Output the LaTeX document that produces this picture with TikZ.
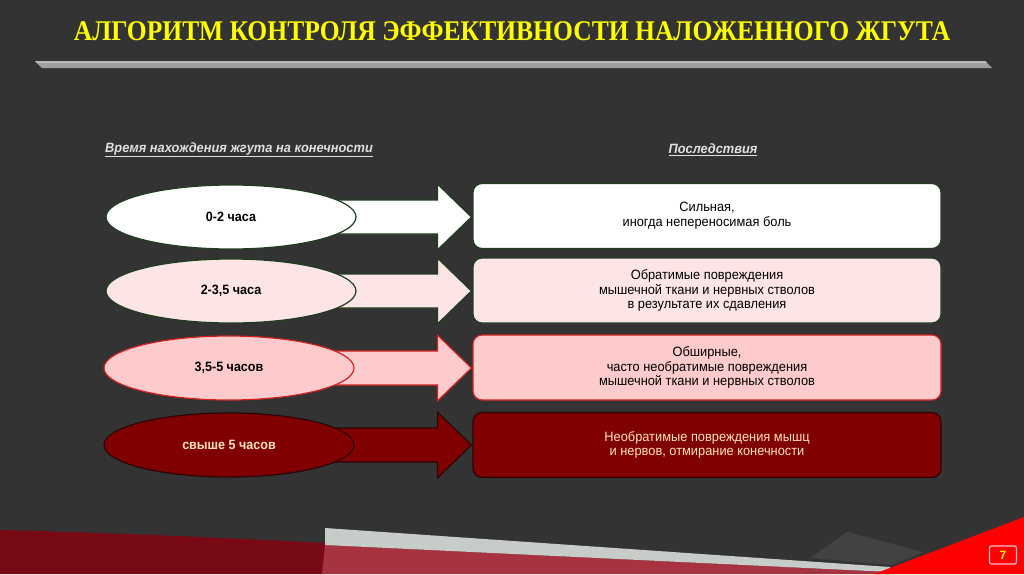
\documentclass[tikz,border=0pt]{standalone}
\usepackage{fontspec}
\setmainfont{Liberation Sans}
\newfontfamily\titlefont[FakeStretch=0.897]{Liberation Serif}
\newfontfamily\narrowfont[FakeStretch=0.95]{Liberation Sans}
\newfontfamily\boldnarrow[FakeStretch=0.93]{Liberation Sans}
\usetikzlibrary{shapes.geometric,calc}
\definecolor{bg}{HTML}{333333}
\definecolor{ttl}{HTML}{FFFF00}
\definecolor{dgreen}{HTML}{1E3D1E}
\definecolor{pinkA}{HTML}{FDE5E5}
\definecolor{pinkB}{HTML}{FDCBCB}
\definecolor{redB}{HTML}{D42020}
\definecolor{dred}{HTML}{800000}
\definecolor{dredB}{HTML}{2A0505}
\definecolor{cream}{HTML}{FBE3B8}
\definecolor{hdr}{HTML}{E0E0E0}
\definecolor{bandA}{HTML}{780A16}
\definecolor{bandB}{HTML}{A83340}
\definecolor{stripW}{HTML}{C8CCC8}
\definecolor{shadeC}{HTML}{424242}
\definecolor{bright}{HTML}{FF0000}
\definecolor{pgB}{HTML}{F0C0D0}
\begin{document}
\begin{tikzpicture}[x=1pt,y=-1pt,
  ell/.style={ellipse,minimum width=250,minimum height=64,inner sep=0pt,line width=1.2pt,
    font=\boldnarrow\bfseries\fontsize{13.5}{15}\selectfont},
  cbox/.style={rectangle,rounded corners=9pt,minimum width=468,minimum height=65,inner sep=0pt,
    line width=1.2pt,align=center,font=\narrowfont\fontsize{13.5}{14.8}\selectfont},
  barrow/.style={line width=1.2pt,line join=miter},
  hdrtext/.style={text=hdr,font=\narrowfont\bfseries\itshape\fontsize{13.5}{15}\selectfont,inner sep=0pt}
]
\useasboundingbox (0,0) rectangle (1024,574);
\fill[bg] (0,0) rectangle (1024,574);
% title
\node[text=ttl,font=\titlefont\bfseries\fontsize{28.5}{30}\selectfont,inner sep=0pt] (title) at (512,31) {АЛГОРИТМ КОНТРОЛЯ ЭФФЕКТИВНОСТИ НАЛОЖЕННОГО ЖГУТА};
% gray bar
\fill[gray!75] (35,61) -- (985,61) -- (992,68) -- (42,68) -- cycle;
\fill[gray!55] (35,61) -- (985,61) -- (987,63) -- (37,63) -- cycle;
% headers
\node[hdrtext] (h1) at (239,150) {\underline{Время нахождения жгута на конечности}};
\node[hdrtext] (h2) at (713,150) {\underline{Последствия}};
% bottom decoration
\fill[bandA] (0,530) .. controls (120,533) and (230,538) .. (325,543) -- (325,574) -- (0,574) -- cycle;
\fill[bandB] (325,545) -- (890,572) -- (890,574) -- (322,574) -- cycle;
\fill[stripW] (325,528) -- (890,567) -- (890,572) -- (325,545) -- cycle;
\fill[shadeC] (847,532) -- (923,552) -- (892,565) -- (810,558) -- cycle;
\fill[bright] (874,574) -- (1024,517) -- (1024,574) -- cycle;
\node[draw=pgB,line width=1.2pt,rounded corners=2pt,minimum width=27,minimum height=18,inner sep=0pt,
  text=ttl,font=\bfseries\fontsize{12}{14}\selectfont] (pg) at (1003,555) {7};
% boxes
\node[cbox,draw=dgreen,fill=white] (b1) at (707,216) {Сильная,\\иногда непереносимая боль};
\node[cbox,draw=dgreen,fill=pinkA] (b2) at (707,290.5) {Обратимые повреждения\\мышечной ткани и нервных стволов\\в результате их сдавления};
\node[cbox,draw=redB,fill=pinkB] (b3) at (707,367.5) {Обширные,\\часто необратимые повреждения\\мышечной ткани и нервных стволов};
\node[cbox,draw=dredB,fill=dred,text=cream] (b4) at (707,445) {Необратимые повреждения мышц\\и нервов, отмирание конечности};
% ellipse positions
\coordinate (p1) at (231,217);
\coordinate (p2) at (231,291);
\coordinate (p3) at (229,368);
\coordinate (p4) at (229,445);
% arrows
\foreach \i/\dc/\fc in {1/dgreen/white,2/dgreen/pinkA,3/redB/pinkB,4/dredB/dred}{
  \draw[barrow,draw=\dc,fill=\fc]
    ($(p\i)+(60,-17)$) -- ($(b\i.west |- p\i)+(-35,-17)$) -- ($(b\i.west |- p\i)+(-35,-33)$)
    -- ($(b\i.west |- p\i)+(-1,0)$) -- ($(b\i.west |- p\i)+(-35,33)$) -- ($(b\i.west |- p\i)+(-35,17)$)
    -- ($(p\i)+(60,17)$) -- cycle;
}
% ellipses
\node[ell,draw=dgreen,fill=white] (e1) at (p1) {0-2 часа};
\node[ell,draw=dgreen,fill=pinkA] (e2) at (p2) {2-3,5 часа};
\node[ell,draw=redB,fill=pinkB] (e3) at (p3) {3,5-5 часов};
\node[ell,draw=dredB,fill=dred,text=cream] (e4) at (p4) {свыше 5 часов};
\end{tikzpicture}
\end{document}
